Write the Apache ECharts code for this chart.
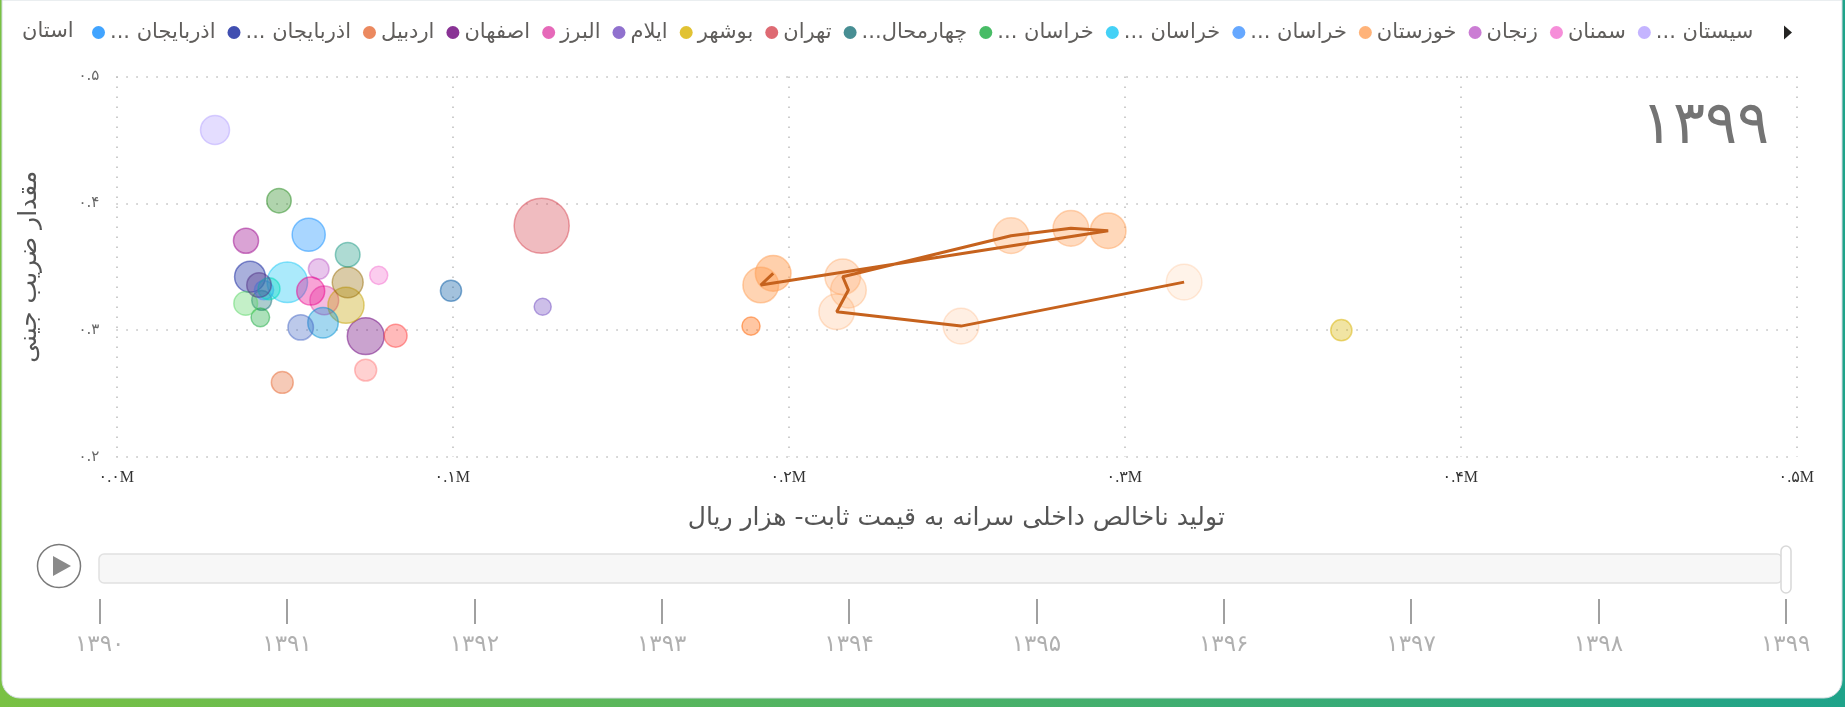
<!DOCTYPE html>
<html><head><meta charset="utf-8">
<script src="https://cdn.jsdelivr.net/npm/echarts@6/dist/echarts.min.js"></script>
<style>html,body{margin:0;padding:0;background:#fff}#c{width:1845px;height:707px}</style>
</head><body><div id="c"></div>
<script>
// ---------- data ----------
const provinces = ['آذربایجان شرقی','آذربایجان غربی','اردبیل','اصفهان','البرز','ایلام','بوشهر','تهران','چهارمحال و بختیاری','خراسان جنوبی','خراسان رضوی','خراسان شمالی','خوزستان','زنجان','سمنان','سیستان و بلوچستان','فارس','قزوین','قم','کردستان','کرمان','کرمانشاه','کهگیلویه و بویراحمد','گلستان','گیلان','لرستان','مازندران','مرکزی','هرمزگان','همدان','یزد'];
// GDP per capita at constant prices (thousand rial), year 1399
const gdpPerCapita1399 = [57260, 39800, 49400, 74230, 61900, 126900, 364600, 126600, 43270, 42860, 50900, 43960, 195500, 60240, 78100, 29380, 68360, 74230, 45450, 38510, 61520, 54880, 188900, 38600, 57860, 42470, 68870, 83150, 68870, 48420, 99610];
// Gini coefficient, year 1399
const gini1399 = [0.3752, 0.3421, 0.2588, 0.2953, 0.3235, 0.3185, 0.3000, 0.3823, 0.3235, 0.3101, 0.3377, 0.3316, 0.3448, 0.3482, 0.3432, 0.4578, 0.3196, 0.2685, 0.3327, 0.3211, 0.3058, 0.3022, 0.3032, 0.3705, 0.3308, 0.3356, 0.3377, 0.2956, 0.3595, 0.4021, 0.3311];
// bubble size measure (population, millions)
const population = [3.91, 3.27, 1.27, 5.12, 2.71, 0.58, 1.16, 13.27, 0.95, 0.77, 6.43, 0.86, 4.71, 1.06, 0.70, 2.78, 4.85, 1.27, 1.29, 1.60, 3.16, 1.95, 0.71, 1.87, 2.53, 1.76, 3.28, 1.43, 1.78, 1.74, 1.14];
const years = [1390, 1391, 1392, 1393, 1394, 1395, 1396, 1397, 1398, 1399];
// trail of the selected province (خوزستان) over the years
const trailProvince = 'خوزستان';
const khuzestanGdpTrail = [317800, 251400, 214400, 217900, 216200, 266300, 284100, 295200, 191800, 195500];
const khuzestanGiniTrail = [0.3379, 0.3032, 0.3145, 0.3316, 0.3421, 0.3745, 0.3803, 0.3784, 0.3356, 0.3448];
const xTitle = 'تولید ناخالص داخلی سرانه به قیمت ثابت- هزار ریال';
const yTitle = 'مقدار ضریب جینی';
const legendTitle = 'استان';

// ---------- style ----------
const palette = ['#118DFF','#12239E','#E66C37','#6B007B','#E044A7','#744EC2','#D9B300','#D64550','#197278','#1AAB40','#15C6F4','#4092FF','#FFA058','#BE5DC9','#F472D0','#B5A1FF','#C4A200','#FF8080','#00DBBC','#5BD667','#0091D5','#4668C5','#FF6300','#99008A','#EC008C','#533285','#99700A','#FF4141','#1F9A85','#25891C','#0057A2'];
const fa = s => String(s).replace(/[0-9]/g, d => '۰۱۲۳۴۵۶۷۸۹'[+d]);
function rgba(hex, a){ const n = parseInt(hex.slice(1),16); return 'rgba(' + (n>>16) + ',' + ((n>>8)&255) + ',' + (n&255) + ',' + a + ')'; }
const sizeOf = p => 7 + 13.2 * Math.sqrt(p);
const legendFont = '21px "DejaVu Sans"';
const measureCtx = document.createElement('canvas').getContext('2d');
measureCtx.font = legendFont;
function legendLabel(name){
  const limit = 106;
  if (measureCtx.measureText(name).width <= limit) return name;
  let s = name;
  while (s.length > 1 && measureCtx.measureText(s + '...').width > limit) s = s.slice(0, -1);
  return s + '...\u200F';
}

const series = [];
provinces.forEach((name, i) => {
  const c = palette[i];
  if (name === trailProvince) {
    const n = years.length;
    series.push({
      type: 'scatter', name, z: 3,
      symbolSize: v => sizeOf(v[2]),
      data: years.map((y, k) => ({
        value: [khuzestanGdpTrail[k], khuzestanGiniTrail[k], population[i]],
        itemStyle: { color: rgba(c, (0.16 + 0.46 * k / (n - 1)).toFixed(2)), borderColor: rgba(c, (0.28 + 0.4 * k / (n - 1)).toFixed(2)), borderWidth: 1.5 }
      }))
    });
    series.push({
      type: 'line', name, z: 4, silent: true, symbol: 'none',
      data: years.map((y, k) => [khuzestanGdpTrail[k], khuzestanGiniTrail[k]]),
      lineStyle: { color: '#C6621D', width: 3 }
    });
  } else {
    series.push({
      type: 'scatter', name, z: 2,
      symbolSize: v => sizeOf(v[2]),
      data: [[gdpPerCapita1399[i], gini1399[i], population[i]]],
      itemStyle: { color: rgba(c, 0.45), borderColor: rgba(c, 0.62), borderWidth: 1.5 }
    });
  }
});

const grid = '#bdbdbd';
const chart = echarts.init(document.getElementById('c'));
chart.setOption({
  animation: false,
  textStyle: { fontFamily: '"DejaVu Sans"' },
  grid: [
    { left: 116.3, right: 48.7, top: 76.5, bottom: 250 },
    { left: 99.7, right: 59.3, top: 598, height: 1 }
  ],
  legend: {
    type: 'scroll', left: 87, top: 17, width: 1700,
    itemWidth: 13, itemHeight: 13, itemGap: 12, icon: 'circle',
    selectedMode: false,
    textStyle: { fontSize: 21, color: '#605E5C', fontFamily: '"DejaVu Sans"' },
    formatter: legendLabel,
    data: provinces.map((n, i) => ({ name: n, itemStyle: { color: palette[i], borderWidth: 0 } })),
    pageButtonPosition: 'end', pageFormatter: ' ', pageButtonItemGap: 2,
    pageTextStyle: { fontSize: 1, color: 'rgba(0,0,0,0)' },
    pageIcons: { horizontal: ['path://M0,0L1,0L1,1Z', 'path://M0,0L8,7L0,14Z'] },
    pageIconColor: '#252423', pageIconInactiveColor: 'rgba(0,0,0,0)', pageIconSize: [8, 14],
    pageButtonGap: 8, animation: false
  },
  xAxis: [
    {
      type: 'value', min: 0, max: 500000, interval: 100000,
      axisLine: { show: false }, axisTick: { show: false },
      axisLabel: { margin: 13, fontSize: 16, color: '#333', fontFamily: '"Liberation Serif", "DejaVu Sans"', formatter: v => fa((v / 1e6).toFixed(1)) + 'M' },
      splitLine: { show: true, lineStyle: { color: grid, width: 1.5, type: [1.5, 8.5] } },
      name: xTitle, nameLocation: 'middle', nameGap: 49,
      nameTextStyle: { fontSize: 25, color: '#555', fontFamily: '"DejaVu Sans"' }
    },
    {
      gridIndex: 1, type: 'category', data: years.map(fa), boundaryGap: false,
      axisLine: { show: false },
      axisTick: { show: true, length: 25, alignWithLabel: true, lineStyle: { color: '#a0a0a0', width: 2 } },
      axisLabel: { margin: 35, fontSize: 23, color: '#b0b0b0', fontFamily: '"DejaVu Sans"' },
      splitLine: { show: false }
    }
  ],
  yAxis: [
    {
      type: 'value', min: 0.2, max: 0.5, interval: 0.1,
      axisLine: { show: false }, axisTick: { show: false },
      axisLabel: { margin: 17, fontSize: 15, color: '#666', formatter: v => fa(v.toFixed(1)) },
      splitLine: { show: true, lineStyle: { color: grid, width: 1.5, type: [1.5, 8.5] } },
      name: yTitle, nameLocation: 'middle', nameRotate: 90, nameGap: 74,
      nameTextStyle: { fontSize: 25, color: '#555', fontFamily: '"DejaVu Sans"' }
    },
    { gridIndex: 1, type: 'value', show: false }
  ],
  graphic: [
    { type: 'rect', z: -10, silent: true, shape: { x: 0, y: 0, width: 1845, height: 707 },
      style: { fill: new echarts.graphic.LinearGradient(0, 0, 1, 0, [{ offset: 0, color: '#79c143' }, { offset: 1, color: '#1fa38a' }]) } },
    { type: 'rect', z: -9, silent: true, shape: { x: 2, y: 0, width: 1840, height: 698, r: [0, 0, 18, 18] },
      style: { fill: '#fff', stroke: '#d5dde2', lineWidth: 1 } },
    { type: 'text', left: 22, top: 21, silent: true, style: { text: legendTitle, font: legendFont, fill: '#605E5C' } },
    { type: 'text', right: 76, top: 97, silent: true, style: { text: fa(years[years.length - 1]), font: '200 60px "DejaVu Sans"', fill: '#747474' } },
    { type: 'circle', silent: true, shape: { cx: 59, cy: 566, r: 21.5 }, style: { fill: '#fff', stroke: '#7a7a7a', lineWidth: 1.5 } },
    { type: 'polygon', silent: true, shape: { points: [[53, 556], [71, 566], [53, 576]] }, style: { fill: '#8a8a8a' } },
    { type: 'rect', silent: true, shape: { x: 99, y: 554, width: 1683, height: 29, r: 5 }, style: { fill: '#f7f7f7', stroke: '#e1e1e1', lineWidth: 1.5 } },
    { type: 'rect', silent: true, shape: { x: 1781, y: 546, width: 10, height: 47, r: 5 }, style: { fill: '#fff', stroke: '#d8d8d8', lineWidth: 1.5 } }
  ],
  series
});
</script></body></html>
